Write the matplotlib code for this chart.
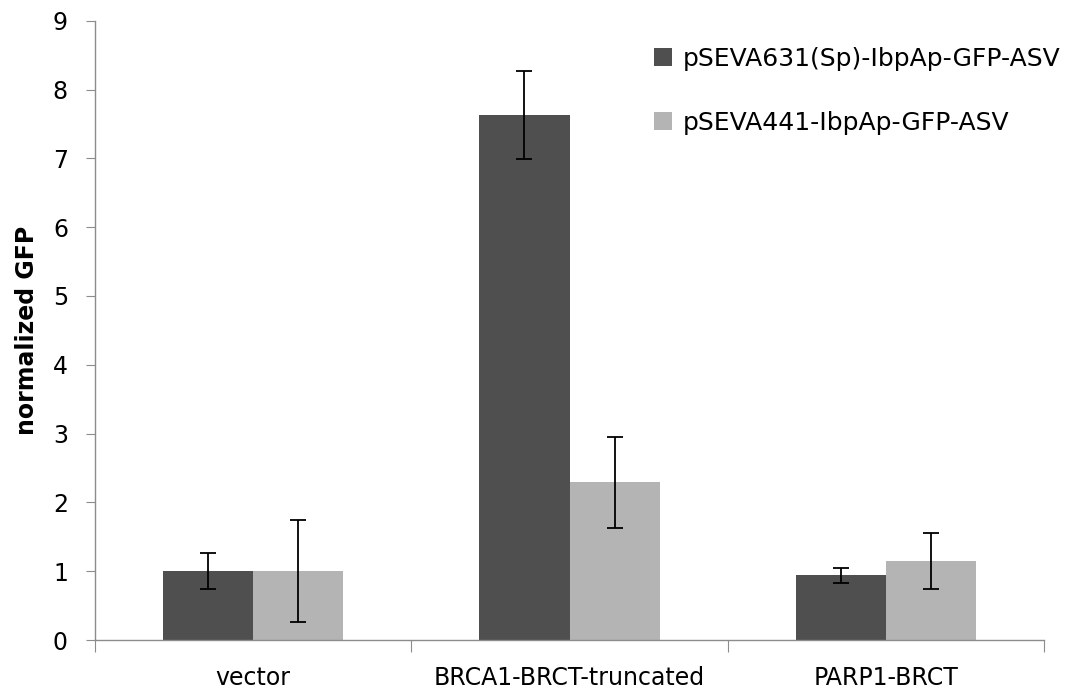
import numpy as np
import matplotlib
matplotlib.use("Agg")
import matplotlib.pyplot as plt

# ───── data ─────────────────────────────────────────────────────────────
categories = ["vector", "BRCA1-BRCT-truncated", "PARP1-BRCT"]
series_names = ["pSEVA631(Sp)-IbpAp-GFP-ASV", "pSEVA441-IbpAp-GFP-ASV"]

gfp_631 = [1.00, 7.63, 0.94]
err_631 = [0.26, 0.64, 0.11]

gfp_441 = [1.00, 2.29, 1.15]
err_441 = [0.74, 0.66, 0.41]

COLORS = ["#4f4f4f", "#b4b4b4"]
AXIS_GREY = "#8c8c8c"
BAR_W = 0.285
FS = 17

fig = plt.figure(figsize=(10.66, 6.98), dpi=100)
ax = fig.add_axes([0.0891, 0.083, 0.8903, 0.8873])

x = np.arange(len(categories))
for i, (vals, errs) in enumerate([(gfp_631, err_631), (gfp_441, err_441)]):
    offs = (i - 0.5) * BAR_W
    ax.bar(x + offs, vals, width=BAR_W, color=COLORS[i],
           label=series_names[i], zorder=2)
    ax.errorbar(x + offs, vals, yerr=errs, fmt="none", ecolor="black",
                elinewidth=1.3, capsize=5.5, capthick=1.3, zorder=3)

ax.set_xlim(-0.5, len(categories) - 0.5)
ax.set_ylim(0, 9)
ax.set_yticks(np.arange(0, 10, 1))

# category ticks sit between groups, labels centred under each group
ax.set_xticks(np.arange(-0.5, len(categories), 1.0))
ax.set_xticklabels([])
ax.set_xticks(x, minor=True)
ax.set_xticklabels(categories, minor=True, fontsize=FS)
ax.tick_params(axis="x", which="minor", length=0, pad=19)
ax.tick_params(axis="x", which="major", length=8.5, color=AXIS_GREY)
ax.tick_params(axis="y", length=6.5, color=AXIS_GREY, labelsize=FS, pad=13)

for side in ["top", "right"]:
    ax.spines[side].set_visible(False)
for side in ["left", "bottom"]:
    ax.spines[side].set_color(AXIS_GREY)
    ax.spines[side].set_linewidth(1.0)

ax.set_ylabel("normalized GFP", fontsize=FS, fontweight="bold", labelpad=10)

fig.legend(loc="upper left", bbox_to_anchor=(654 / 1066, 1 - 47 / 698),
           frameon=False, fontsize=18, handlelength=0.72, handleheight=0.72,
           handletextpad=0.42, labelspacing=1.6, borderpad=0,
           borderaxespad=0)

fig.savefig("out.png", dpi=100)
